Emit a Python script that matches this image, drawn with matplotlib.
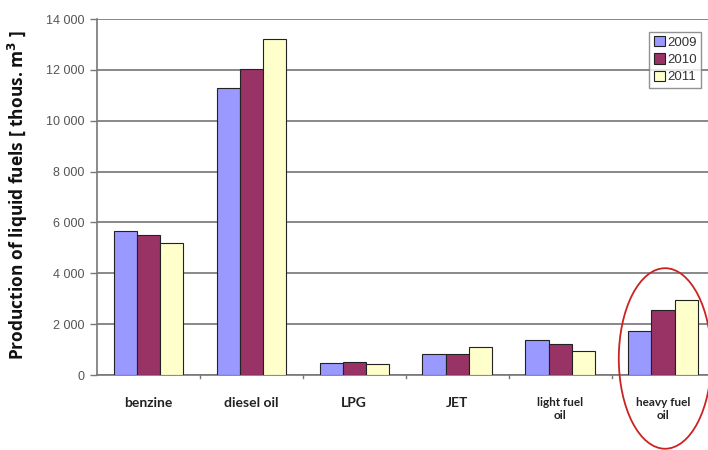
import matplotlib.pyplot as plt
import matplotlib.patches as patches
import numpy as np

categories = ['benzine', 'diesel oil', 'LPG', 'JET', 'light fuel\noil', 'heavy fuel\noil']
years = ['2009', '2010', '2011']
v2009 = [5650, 11300, 480, 820, 1370, 1750]
v2010 = [5500, 12050, 530, 820, 1230, 2550]
v2011 = [5200, 13200, 450, 1100, 950, 2950]
yticks = [0, 2000, 4000, 6000, 8000, 10000, 12000, 14000]

colors = ['#9999FF', '#993366', '#FFFFCC']
series = [v2009, v2010, v2011]

fig = plt.figure(figsize=(7.08, 4.5), dpi=100)
ax = fig.add_axes([97/708, 1-375/450, (714.5-97)/708, (375-19)/450])

x = np.arange(len(categories))
w = 0.225
for i, (vals, c, lab) in enumerate(zip(series, colors, years)):
    ax.bar(x + (i-1)*w, vals, w, color=c, edgecolor='#222222', linewidth=0.8,
           label=lab, zorder=3)

ax.set_xlim(-0.5, len(categories)-0.5)
ax.set_ylim(0, 14000)
ax.set_yticks(yticks)
ax.set_yticklabels([f'{v:,}'.replace(',', ' ') for v in yticks],
                   fontsize=9, color='#555555', family='Liberation Sans')
ax.yaxis.grid(True, color='#888888', linewidth=1.4, zorder=0)
ax.tick_params(axis='y', length=5, width=1, color='#777777', pad=4)

# category labels and boundary ticks
ax.set_xticks(x)
ax.set_xticklabels([])
ax.tick_params(axis='x', length=0)
for xi, cat in zip(x, categories):
    fs = 8.5 if '\n' in cat else 10
    ax.text(xi, -850, cat, ha='center', va='top', fontsize=fs, fontweight='bold',
            family='Lato', color='#222222', linespacing=1.25)
for b in x[1:] - 0.5:
    ax.plot([b, b], [0, -120], color='#777777', lw=1, clip_on=False)

for s in ['top', 'right']:
    ax.spines[s].set_visible(False)
ax.spines['left'].set_color('#777777')
ax.spines['bottom'].set_color('#777777')
ax.spines['left'].set_linewidth(1.2)
ax.spines['bottom'].set_linewidth(1.2)

fig.text(18/708, 1-195/450, 'Production of liquid fuels [ thous. m$^\\mathbf{3}$ ]',
         rotation=90, ha='center', va='center', fontsize=12.5, fontweight='bold',
         family='Open Sans', color='#111111')

leg = ax.legend(loc='upper right', bbox_to_anchor=(708/708, 1-25/450),
                bbox_transform=fig.transFigure, frameon=True,
                fancybox=False, handlelength=0.8, handleheight=0.8,
                handletextpad=0.2, borderpad=0.35, labelspacing=0.35,
                prop={'family': 'Liberation Sans', 'size': 9.5})
leg.get_frame().set_edgecolor('#777777')
leg.get_frame().set_linewidth(1)
for t in leg.get_texts():
    t.set_color('#333333')

# red ellipse highlighting heavy fuel oil
ell = patches.Ellipse((5.02, 650), 0.9, 7100, fill=False, edgecolor='#CC2222',
                      linewidth=1.3, clip_on=False, zorder=5)
ax.add_patch(ell)

fig.savefig('out.png', dpi=100)
